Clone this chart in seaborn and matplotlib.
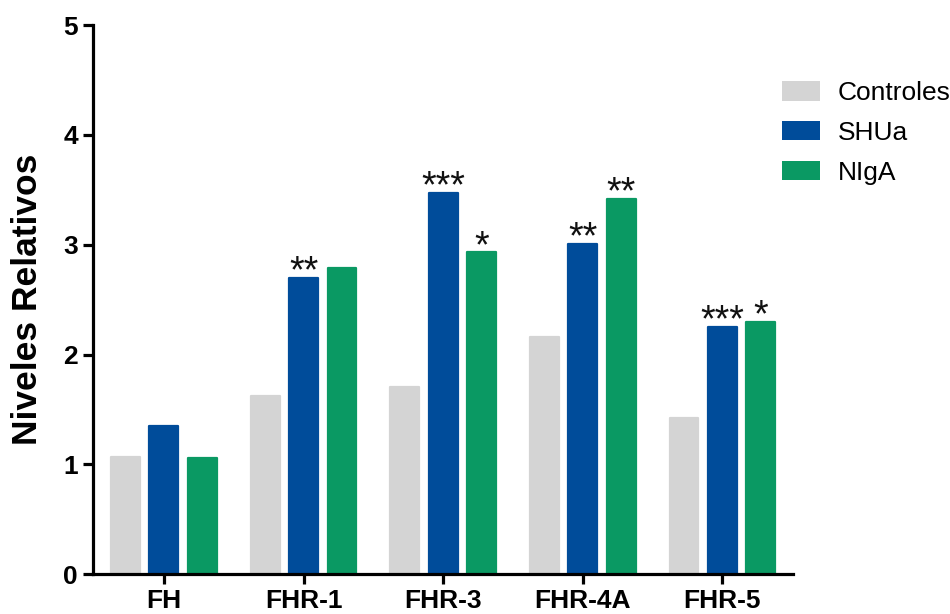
import matplotlib
matplotlib.use("Agg")
import matplotlib.pyplot as plt
from matplotlib.patches import Patch
import seaborn as sns
import pandas as pd

# Relative levels per protein and group
categories = ["FH", "FHR-1", "FHR-3", "FHR-4A", "FHR-5"]
groups = ["Controles", "SHUa", "NIgA"]
controles = [1.07, 1.62, 1.70, 2.16, 1.42]
shua = [1.35, 2.70, 3.47, 3.01, 2.25]
niga = [1.06, 2.79, 2.93, 3.42, 2.30]

# Significance marks above SHUa and NIgA bars
sig_shua = ["", "**", "***", "**", "***"]
sig_niga = ["", "", "*", "**", "*"]

colors = ["#D4D4D4", "#004C9A", "#0A9963"]

df = pd.DataFrame({
    "Proteina": categories * 3,
    "Grupo": [g for g in groups for _ in categories],
    "Valor": controles + shua + niga,
})

sns.set_theme(style="white")
plt.rcParams["font.family"] = ["Liberation Sans", "DejaVu Sans"]
plt.rcParams["text.color"] = "black"

fig = plt.figure(figsize=(9.5, 6.14), dpi=100)
ax = fig.add_axes([0.098, 0.065, 0.737, 0.894])

sns.barplot(data=df, x="Proteina", y="Valor", hue="Grupo",
            order=categories, hue_order=groups, palette=colors,
            width=0.825, gap=0.25, saturation=1, errorbar=None,
            legend=False, ax=ax)

# Soften the bar corners with a same-colour rounded outline
for container in ax.containers:
    for bar in container:
        bar.set_edgecolor(bar.get_facecolor())
        bar.set_linewidth(1.6)
        bar.set_joinstyle("round")

# Stars over the bars
for container, marks in ((ax.containers[1], sig_shua), (ax.containers[2], sig_niga)):
    for bar, m in zip(container, marks):
        if m:
            ax.annotate(m, (bar.get_x() + bar.get_width() / 2, bar.get_height()),
                        xytext=(0, -9), textcoords="offset points",
                        ha="center", va="bottom", fontsize=27,
                        color="#111111")

ax.set_xlim(-0.507, 4.507)
ax.set_ylim(0, 5)
ax.set_yticks([0, 1, 2, 3, 4, 5])
ax.set_xlabel("")
ax.set_ylabel("Niveles Relativos", fontsize=25.5, fontweight="bold",
              labelpad=14, color="black")

for side in ("top", "right"):
    ax.spines[side].set_visible(False)
for side in ("left", "bottom"):
    ax.spines[side].set_linewidth(2.3)
    ax.spines[side].set_color("black")

ax.tick_params(axis="both", which="major", length=7, width=2.3, color="black",
               labelsize=19, labelcolor="black", bottom=True, left=True, pad=4)
for lab in ax.get_xticklabels() + ax.get_yticklabels():
    lab.set_fontweight("bold")

handles = [Patch(facecolor=c, edgecolor="none", label=g) for c, g in zip(colors, groups)]
fig.legend(handles=handles, loc="upper left", bbox_to_anchor=(0.823, 0.868),
           frameon=False, fontsize=19, handlelength=1.44, handleheight=0.76,
           handletextpad=0.68, labelspacing=0.6, borderaxespad=0, borderpad=0)

fig.savefig("out.png", dpi=100)
